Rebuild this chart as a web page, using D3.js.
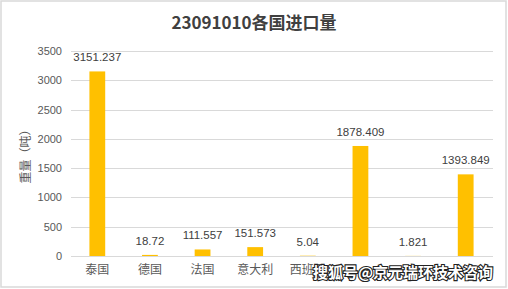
<!DOCTYPE html>
<html>
<head>
<meta charset="utf-8">
<script src="https://cdn.jsdelivr.net/npm/d3@7"></script>
<style>
  html, body { margin: 0; padding: 0; background: #fff; }
  svg { display: block; }
</style>
</head>
<body>
<svg id="chart" width="508" height="289"></svg>
<script>
// Import volume by country, tariff code 23091010 (tonnes)
const categories = ["泰国", "德国", "法国", "意大利", "西班牙", "美国", "荷兰", "新西兰"];
const values = [3151.237, 18.72, 111.557, 151.573, 5.04, 1878.409, 1.821, 1393.849];
const valueLabels = ["3151.237", "18.72", "111.557", "151.573", "5.04", "1878.409", "1.821", "1393.849"];
const yTicks = [0, 500, 1000, 1500, 2000, 2500, 3000, 3500];
// Category names that sit under the publisher mark are left undrawn
const shownCategories = ["泰国", "德国", "法国", "意大利", "西班牙"];

const W = 508, H = 289;
const margin = { top: 51, right: 15, bottom: 33, left: 71 };
const svg = d3.select("#chart");
const font = "'Liberation Sans', Arial, 'Noto Sans CJK SC', sans-serif";

// Outer chart frame
svg.append("rect")
  .attr("x", 1).attr("y", 1).attr("width", W - 3).attr("height", H - 3)
  .attr("fill", "#fff").attr("stroke", "#d9d9d9").attr("stroke-width", 1.5);

const x = d3.scaleBand()
  .domain(categories)
  .range([margin.left, W - margin.right - 1])
  .paddingInner(0.7).paddingOuter(0.35);

const y = d3.scaleLinear()
  .domain([0, 3500])
  .range([H - margin.bottom, margin.top]);

// Horizontal gridlines
svg.append("g")
  .selectAll("line")
  .data(yTicks)
  .join("line")
  .attr("x1", margin.left).attr("x2", W - margin.right)
  .attr("y1", d => Math.round(y(d)) + 0.5).attr("y2", d => Math.round(y(d)) + 0.5)
  .attr("stroke", "#d9d9d9").attr("stroke-width", 1);

// Y axis tick labels
const yAxis = d3.axisLeft(y).tickValues(yTicks).tickFormat(d3.format("d")).tickSize(0).tickPadding(9);
svg.append("g")
  .attr("transform", `translate(${margin.left},0)`)
  .call(yAxis)
  .call(g => g.select(".domain").remove())
  .call(g => g.selectAll("text")
    .attr("fill", "#595959")
    .style("font-family", font)
    .style("font-size", "11px"));

// X axis category labels
const xAxis = d3.axisBottom(x).tickSize(0).tickPadding(9)
  .tickFormat(d => shownCategories.includes(d) ? d : "");
svg.append("g")
  .attr("transform", `translate(0,${H - margin.bottom})`)
  .call(xAxis)
  .call(g => g.select(".domain").remove())
  .call(g => g.selectAll("text")
    .attr("fill", "#595959")
    .style("font-family", font)
    .style("font-size", "12px"));

// Bars
svg.append("g")
  .selectAll("rect")
  .data(values)
  .join("rect")
  .attr("x", (d, i) => x(categories[i]))
  .attr("y", d => y(d))
  .attr("width", x.bandwidth())
  .attr("height", d => y(0) - y(d))
  .attr("fill", "#ffc000");

// Value labels above bars
svg.append("g")
  .selectAll("text")
  .data(values)
  .join("text")
  .attr("x", (d, i) => x(categories[i]) + x.bandwidth() / 2)
  .attr("y", d => y(d) - 10)
  .attr("text-anchor", "middle")
  .attr("fill", "#404040")
  .style("font-family", font)
  .style("font-size", "11.5px")
  .text((d, i) => valueLabels[i]);

// Y axis title
svg.append("text")
  .attr("transform", `translate(30,${(margin.top + H - margin.bottom) / 2}) rotate(-90)`)
  .attr("text-anchor", "middle")
  .attr("fill", "#595959")
  .style("font-family", "'Noto Sans CJK SC', sans-serif")
  .style("font-size", "12px")
  .text("重量（吨）");

// Chart title
svg.append("text")
  .attr("x", W / 2).attr("y", 29)
  .attr("text-anchor", "middle")
  .attr("fill", "#404040")
  .style("font-family", "'Noto Sans CJK SC', sans-serif")
  .style("font-weight", "bold")
  .style("font-size", "17px")
  .text("23091010各国进口量");

// Publisher mark
svg.append("text")
  .attr("x", 493).attr("y", 278)
  .attr("text-anchor", "end")
  .attr("fill", "#fff")
  .attr("stroke", "#222")
  .attr("stroke-width", 2.2)
  .attr("paint-order", "stroke")
  .style("font-family", "'Noto Sans CJK SC', sans-serif")
  .style("font-weight", "bold")
  .style("font-size", "15px")
  .text("搜狐号@京元瑞环技术咨询");
</script>
</body>
</html>
